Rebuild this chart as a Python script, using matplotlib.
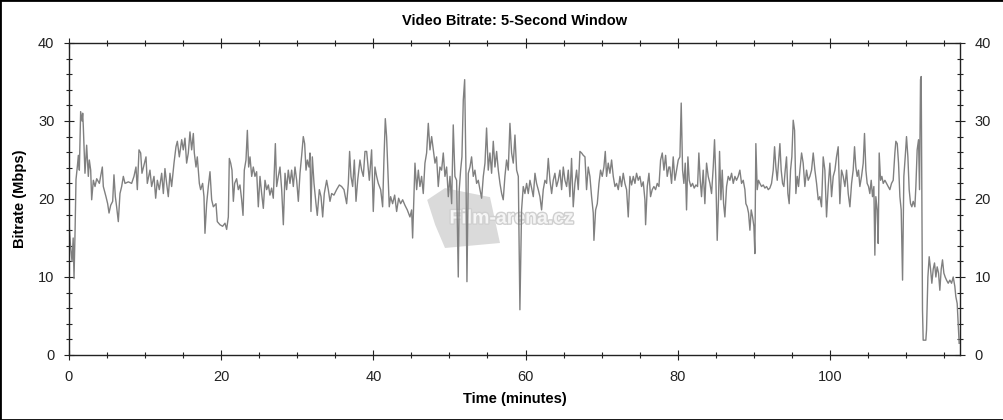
import matplotlib
matplotlib.use("Agg")
import matplotlib.pyplot as plt
from matplotlib.patches import Rectangle, Polygon
from matplotlib.ticker import MultipleLocator
import matplotlib.patheffects as pe

plt.rcParams['font.family'] = ['Liberation Sans', 'DejaVu Sans']

# Time in minutes
time_min = [
    0.0, 0.2, 0.4, 0.55, 0.66, 0.8, 0.92, 1.10, 1.23, 1.36, 1.53, 1.71, 1.80, 1.88, 2.10, 2.32, 2.54, 2.67, 2.85, 2.98,
    3.20, 3.42, 3.64, 3.99, 4.38, 4.51, 4.86, 5.08, 5.26, 5.48, 5.74, 5.91, 6.09, 6.26, 6.48, 6.70, 6.92, 7.14, 7.36, 7.80,
    8.23, 8.54, 8.80, 8.98, 9.20, 9.42, 9.59, 10.12, 10.29, 10.64, 10.86, 11.17, 11.39, 11.61, 11.87, 12.18, 12.40, 12.61, 12.83, 13.05,
    13.27, 13.49, 13.80, 14.06, 14.24, 14.50, 14.81, 15.02, 15.24, 15.46, 15.68, 15.90, 16.12, 16.34, 16.47, 16.69, 16.86, 17.13, 17.30, 17.56,
    17.74, 17.87, 18.09, 18.31, 18.53, 18.75, 18.97, 19.32, 19.49, 19.84, 20.19, 20.50, 20.72, 20.94, 21.07, 21.25, 21.42, 21.60, 21.77, 22.03,
    22.25, 22.47, 22.69, 22.87, 23.04, 23.26, 23.44, 23.61, 23.79, 24.01, 24.22, 24.44, 24.66, 24.88, 25.10, 25.32, 25.54, 25.76, 25.98, 26.20,
    26.41, 26.63, 26.85, 27.12, 27.29, 27.51, 27.73, 27.95, 28.17, 28.39, 28.60, 28.82, 29.04, 29.26, 29.48, 29.70, 29.92, 30.14, 30.36, 30.58,
    30.79, 30.97, 31.15, 31.32, 31.54, 31.67, 31.80, 31.98, 32.20, 32.46, 32.63, 32.90, 33.12, 33.34, 33.55, 33.86, 34.08, 34.30, 34.52, 34.82,
    35.17, 35.53, 35.83, 36.14, 36.49, 36.71, 36.88, 37.06, 37.28, 37.50, 37.72, 37.94, 38.24, 38.46, 38.68, 38.90, 39.12, 39.47, 39.77, 39.99,
    40.21, 40.43, 40.65, 40.96, 41.22, 41.39, 41.57, 41.74, 41.96, 42.09, 42.27, 42.53, 42.80, 43.06, 43.32, 43.58, 43.85, 44.15, 44.46, 44.81,
    45.03, 45.16, 45.34, 45.47, 45.69, 45.91, 46.12, 46.34, 46.56, 46.78, 47.00, 47.22, 47.44, 47.66, 47.88, 48.10, 48.31, 48.53, 48.75, 48.97,
    49.19, 49.41, 49.63, 49.85, 50.07, 50.29, 50.50, 50.72, 50.94, 51.16, 51.29, 51.47, 51.64, 51.82, 52.00, 52.17, 52.30, 52.48, 52.70, 52.91,
    53.13, 53.35, 53.57, 53.79, 54.01, 54.23, 54.45, 54.67, 54.88, 55.10, 55.32, 55.54, 55.76, 55.98, 56.20, 56.42, 56.64, 56.86, 57.07, 57.29,
    57.51, 57.73, 57.95, 58.17, 58.39, 58.61, 58.83, 59.05, 59.26, 59.48, 59.70, 59.92, 60.14, 60.36, 60.58, 60.80, 61.02, 61.24, 61.45, 61.67,
    61.89, 62.11, 62.33, 62.55, 62.77, 62.99, 63.21, 63.43, 63.64, 63.86, 64.08, 64.30, 64.52, 64.74, 64.96, 65.18, 65.40, 65.62, 65.83, 66.05,
    66.27, 66.49, 66.71, 66.93, 67.15, 67.37, 67.59, 67.81, 68.02, 68.24, 68.46, 68.68, 68.90, 68.99, 69.21, 69.43, 69.65, 69.86, 70.08, 70.30,
    70.48, 70.65, 70.87, 71.09, 71.31, 71.53, 71.75, 71.97, 72.19, 72.41, 72.62, 72.84, 73.06, 73.28, 73.50, 73.72, 73.94, 74.16, 74.38, 74.59,
    74.81, 75.03, 75.25, 75.47, 75.69, 75.78, 76.00, 76.22, 76.43, 76.65, 76.87, 77.09, 77.31, 77.53, 77.75, 77.97, 78.19, 78.41, 78.62, 78.84,
    78.97, 79.19, 79.41, 79.63, 79.85, 80.07, 80.29, 80.46, 80.64, 80.81, 80.99, 81.16, 81.34, 81.51, 81.73, 81.95, 82.17, 82.39, 82.61, 82.78,
    82.96, 83.13, 83.35, 83.57, 83.79, 84.01, 84.23, 84.45, 84.67, 84.84, 85.02, 85.19, 85.37, 85.50, 85.68, 85.85, 86.03, 86.20, 86.42, 86.64,
    86.86, 87.08, 87.30, 87.52, 87.73, 87.95, 88.17, 88.39, 88.61, 88.83, 88.96, 89.14, 89.31, 89.49, 89.66, 89.84, 90.01, 90.14, 90.27, 90.45,
    90.62, 90.80, 91.02, 91.24, 91.46, 91.68, 91.90, 92.11, 92.33, 92.55, 92.73, 92.90, 93.08, 93.25, 93.43, 93.60, 93.78, 93.95, 94.13, 94.30,
    94.48, 94.65, 94.83, 95.00, 95.18, 95.36, 95.53, 95.71, 95.88, 96.06, 96.28, 96.49, 96.71, 96.93, 97.15, 97.37, 97.59, 97.81, 98.03, 98.25,
    98.47, 98.68, 98.90, 99.12, 99.34, 99.56, 99.78, 100.00, 100.22, 100.44, 100.66, 100.87, 101.09, 101.31, 101.53, 101.75, 101.97, 102.19, 102.41, 102.63,
    102.85, 103.06, 103.24, 103.41, 103.59, 103.76, 103.94, 104.16, 104.38, 104.55, 104.73, 104.90, 105.08, 105.25, 105.43, 105.60, 105.78, 105.91, 106.04, 106.22,
    106.35, 106.48, 106.66, 106.83, 107.01, 107.23, 107.44, 107.66, 107.88, 108.10, 108.32, 108.54, 108.67, 108.85, 109.02, 109.20, 109.37, 109.55, 109.72, 109.90,
    110.07, 110.25, 110.42, 110.60, 110.77, 110.95, 111.17, 111.30, 111.47, 111.65, 111.78, 111.91, 112.00, 112.09, 112.17, 112.26, 112.61, 112.70, 112.88, 113.05,
    113.23, 113.40, 113.58, 113.75, 113.93, 114.10, 114.28, 114.45, 114.63, 114.80, 114.98, 115.15, 115.33, 115.55, 115.77, 115.99, 116.21, 116.42, 116.55, 116.73,
    116.86, 116.99,
]

# Bitrate in Mbps
bitrate_mbps = [
    17.0, 14.0, 12.0, 15.0, 9.8, 16.0, 22.5, 24.2, 25.6, 23.7, 31.2, 30.0, 31.0, 29.3, 23.3, 26.9, 22.9, 25.0, 23.7, 19.9,
    22.4, 21.6, 22.6, 22.0, 24.1, 21.6, 20.3, 19.4, 18.2, 19.2, 19.7, 23.1, 20.3, 19.0, 17.1, 20.7, 21.6, 22.9, 22.0, 22.2,
    22.0, 22.9, 24.1, 21.2, 26.3, 25.9, 23.3, 25.4, 22.0, 23.7, 21.6, 22.9, 20.1, 22.4, 21.2, 23.3, 20.7, 23.9, 22.0, 20.3,
    23.3, 21.6, 24.6, 26.7, 27.4, 25.4, 27.6, 26.3, 27.8, 24.6, 25.9, 28.6, 26.3, 28.4, 25.9, 24.1, 25.4, 22.0, 21.2, 22.0,
    20.3, 15.6, 19.4, 21.6, 23.5, 19.9, 19.0, 19.4, 17.1, 16.7, 16.5, 16.9, 16.1, 17.7, 25.2, 24.6, 23.7, 19.7, 22.0, 22.6,
    21.2, 21.8, 19.9, 17.9, 23.7, 25.0, 28.8, 24.1, 25.4, 22.9, 24.1, 22.9, 23.5, 19.0, 22.9, 20.7, 18.8, 22.4, 21.2, 21.8,
    20.5, 21.4, 20.1, 27.1, 21.6, 22.9, 24.1, 21.2, 16.7, 23.3, 21.2, 23.7, 22.0, 23.7, 21.6, 24.1, 22.4, 19.7, 23.3, 25.6,
    28.0, 27.1, 23.7, 25.0, 24.1, 25.9, 18.4, 25.4, 22.0, 19.4, 17.9, 21.2, 20.3, 17.7, 20.7, 22.4, 21.2, 19.7, 20.7, 20.5,
    21.2, 21.8, 21.6, 21.2, 19.4, 22.0, 26.1, 22.9, 21.6, 25.0, 19.7, 22.4, 25.0, 23.7, 22.9, 26.1, 26.1, 22.4, 26.3, 18.4,
    24.1, 22.9, 22.0, 21.2, 19.0, 25.0, 30.3, 28.0, 22.4, 19.0, 20.3, 19.4, 20.5, 18.4, 20.1, 19.4, 19.9, 19.2, 18.6, 17.7,
    18.6, 15.0, 20.7, 24.6, 21.2, 23.7, 21.6, 22.9, 20.7, 24.6, 25.9, 29.7, 26.3, 28.0, 26.3, 24.6, 25.4, 21.6, 24.1, 23.7,
    25.9, 22.9, 24.1, 20.3, 22.9, 19.4, 29.5, 22.9, 22.4, 10.0, 21.2, 23.7, 25.4, 32.7, 35.3, 23.7, 9.4, 23.3, 24.1, 25.4,
    22.9, 23.7, 22.0, 22.4, 21.2, 20.1, 22.9, 24.6, 29.1, 23.7, 25.9, 23.3, 27.4, 24.1, 26.1, 23.7, 22.0, 20.7, 19.9, 22.9,
    25.0, 23.7, 29.7, 25.9, 24.6, 28.2, 23.7, 22.9, 5.8, 18.6, 21.6, 20.7, 22.0, 20.7, 22.4, 21.4, 20.3, 23.3, 22.0, 21.2,
    20.3, 18.6, 21.2, 22.4, 22.0, 25.2, 22.4, 20.7, 22.4, 23.3, 21.6, 22.4, 23.7, 21.2, 24.1, 22.4, 21.6, 23.7, 20.3, 25.2,
    19.0, 22.0, 23.7, 21.2, 26.1, 25.9, 25.6, 25.4, 21.2, 24.1, 22.9, 20.3, 18.2, 14.7, 18.6, 19.4, 22.0, 23.7, 22.9, 24.1,
    26.1, 22.9, 24.6, 23.3, 25.0, 22.9, 21.6, 22.0, 21.2, 22.9, 21.6, 23.3, 22.0, 21.2, 17.7, 22.9, 21.8, 22.9, 22.0, 23.3,
    22.4, 22.9, 21.6, 22.2, 19.9, 16.7, 21.6, 23.3, 20.3, 21.2, 21.6, 21.2, 22.0, 21.6, 25.0, 25.9, 23.7, 25.6, 22.9, 24.1,
    24.1, 22.0, 25.4, 22.4, 23.7, 25.0, 25.4, 32.3, 23.7, 22.0, 24.6, 18.6, 25.4, 22.4, 21.6, 22.0, 21.4, 21.8, 21.6, 25.9,
    22.4, 20.3, 23.7, 19.4, 24.6, 22.9, 22.0, 20.7, 24.1, 27.6, 22.4, 14.7, 20.3, 26.1, 19.9, 23.7, 19.4, 17.7, 21.6, 22.9,
    22.4, 23.3, 22.0, 22.9, 22.4, 22.9, 23.7, 22.0, 22.4, 21.2, 19.4, 19.0, 18.2, 16.0, 18.6, 17.7, 16.5, 13.0, 27.1, 21.2,
    22.4, 22.0, 21.6, 21.8, 21.4, 21.6, 21.2, 21.4, 22.0, 23.7, 26.7, 24.1, 22.4, 24.6, 27.1, 23.7, 22.0, 21.6, 23.7, 25.4,
    20.7, 19.4, 23.7, 25.4, 30.1, 28.8, 20.7, 22.9, 21.6, 23.7, 25.9, 24.6, 21.6, 23.7, 22.4, 22.9, 23.7, 25.9, 23.7, 22.0,
    19.9, 20.3, 19.0, 25.4, 23.7, 17.7, 21.6, 24.6, 20.3, 22.9, 23.7, 25.4, 26.7, 19.4, 23.7, 22.9, 21.6, 23.7, 20.7, 19.0,
    22.0, 23.7, 26.7, 24.1, 22.9, 23.7, 21.6, 22.9, 24.6, 28.4, 23.7, 22.0, 21.6, 20.7, 22.4, 20.3, 21.6, 12.8, 20.3, 18.6,
    14.3, 25.9, 22.4, 22.9, 22.0, 22.4, 22.0, 21.6, 21.2, 22.0, 22.4, 25.9, 27.4, 27.1, 24.6, 20.3, 18.6, 9.6, 22.9, 25.4,
    28.0, 25.4, 21.2, 19.4, 19.0, 19.7, 19.0, 21.6, 26.3, 27.6, 21.2, 35.3, 35.7, 19.4, 5.8, 1.9, 1.9, 3.2, 10.0, 12.6,
    11.0, 9.2, 11.0, 11.8, 10.0, 11.3, 10.5, 8.3, 11.0, 12.2, 10.5, 10.0, 9.6, 9.2, 9.6, 9.2, 10.0, 8.8, 7.5, 6.6,
    4.1, 1.5,
]

x_ticks = [0, 20, 40, 60, 80, 100]
y_ticks = [0, 10, 20, 30, 40]

fig = plt.figure(figsize=(10.04, 4.2), dpi=100)
ax = fig.add_axes([69/1004, 1 - 355/420, (960-69)/1004, (355-43)/420])

# watermark (behind the data)
ax.add_patch(Polygon([(0.402, 0.497), (0.422, 0.535), (0.4725, 0.506), (0.4837, 0.359),
                      (0.422, 0.343), (0.411, 0.417)], closed=True, transform=ax.transAxes,
                     facecolor='#dadada', edgecolor='none', zorder=0))
ax.text(0.497, 0.436, 'Film-arena.cz', transform=ax.transAxes, ha='center', va='center',
        fontsize=14, fontweight='bold', color='#f6f6f6', zorder=0.5,
        path_effects=[pe.withStroke(linewidth=2, foreground='#d0d0d0')])

ax.plot(time_min, bitrate_mbps, color='#808080', linewidth=1.0, zorder=2)

ax.set_xlim(0, 117.1)
ax.set_ylim(0, 40)
ax.set_xticks(x_ticks)
ax.set_yticks(y_ticks)
ax.xaxis.set_minor_locator(MultipleLocator(5))
ax.yaxis.set_minor_locator(MultipleLocator(2))

for s in ax.spines.values():
    s.set_linewidth(1.0)
    s.set_color('#222222')
    s.set_zorder(3)

ax.tick_params(which='both', top=True, right=True, labelright=True,
               direction='inout', colors='#222222', labelsize=10.5, labelcolor='#222222')
ax.tick_params(which='major', length=7, width=0.8, pad=7)
ax.tick_params(which='minor', length=4, width=0.8)

ax.set_title('Video Bitrate: 5-Second Window', fontsize=10.5, fontweight='bold', pad=13)
ax.set_xlabel('Time (minutes)', fontsize=10.5, fontweight='bold', labelpad=6)
ax.set_ylabel('Bitrate (Mbps)', fontsize=10.5, fontweight='bold', labelpad=8)

fig.patches.append(Rectangle((0, 0), 1, 1, transform=fig.transFigure, fill=False,
                             edgecolor='black', linewidth=2))

fig.savefig('out.png', dpi=100)
